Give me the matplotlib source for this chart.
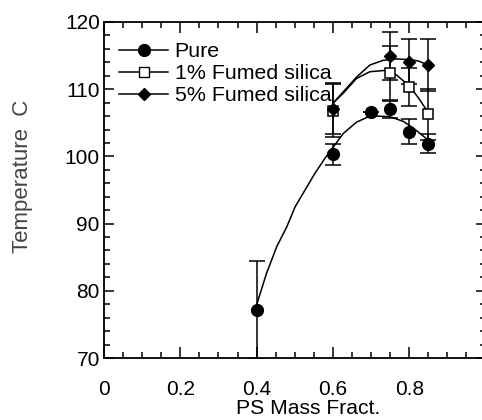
import matplotlib
matplotlib.use("Agg")
import matplotlib.pyplot as plt
from matplotlib.lines import Line2D
from matplotlib.ticker import MultipleLocator

plt.rcParams['font.family'] = ['Liberation Sans', 'DejaVu Sans']

# измеренные точки
x_pure = [0.4, 0.6, 0.7, 0.75, 0.8, 0.85]
y_pure = [77.1, 100.3, 106.6, 107.0, 103.7, 101.9]
e_pure = [7.3, 1.6, 0.0, 1.3, 1.8, 1.4]

x_1 = [0.6, 0.75, 0.8, 0.85]
y_1 = [106.8, 112.4, 110.3, 106.3]
e_1 = [3.9, 4.0, 2.8, 3.8]

x_5 = [0.6, 0.75, 0.8, 0.85]
y_5 = [107.1, 114.9, 114.1, 113.6]
e_5 = [3.8, 3.6, 3.3, 3.8]

# линии аппроксимации
cx_pure = [0.40, 0.426, 0.453, 0.479, 0.501, 0.527, 0.553, 0.579, 0.601, 0.627, 0.662, 0.689, 0.715, 0.75, 0.785, 0.811, 0.833, 0.85]
cy_pure = [77.9, 82.6, 86.6, 89.5, 92.5, 95.0, 97.5, 99.7, 101.4, 103.4, 105.1, 105.8, 106.0, 105.9, 105.2, 104.2, 103.2, 102.4]
cx_1 = [0.6, 0.627, 0.662, 0.697, 0.737, 0.767, 0.802, 0.828, 0.85]
cy_1 = [107.9, 109.4, 111.6, 112.6, 112.8, 112.1, 110.4, 108.4, 106.5]
cx_5 = [0.6, 0.627, 0.662, 0.697, 0.732, 0.767, 0.802, 0.824, 0.85]
cy_5 = [107.9, 109.6, 111.8, 113.6, 114.3, 114.5, 114.4, 114.2, 113.6]

labels = ["Pure", "1% Fumed silica", "5% Fumed silica"]

fig = plt.figure(figsize=(4.82, 4.2), dpi=100)
ax = fig.add_axes([104 / 482, 62 / 420, 381.5 / 482, 336 / 420])

lw = 1.1
ax.plot(cx_pure, cy_pure, color='k', lw=lw)
ax.plot(cx_1, cy_1, color='k', lw=lw)
ax.plot(cx_5, cy_5, color='k', lw=lw)

ax.errorbar(x_pure, y_pure, yerr=e_pure, fmt='o', color='k', ms=8.5, capsize=6, elinewidth=1.1, capthick=1.1)
ax.errorbar(x_1, y_1, yerr=e_1, fmt='s', color='k', mfc='white', ms=7, mew=1.1, capsize=6, elinewidth=1.1, capthick=1.1)
ax.errorbar(x_5, y_5, yerr=e_5, fmt='D', color='k', ms=6.5, capsize=6, elinewidth=1.1, capthick=1.1)

ax.set_xlim(0, 1.0)
ax.set_ylim(70, 120)
ax.xaxis.set_minor_locator(MultipleLocator(0.05))
ax.yaxis.set_major_locator(MultipleLocator(10))
ax.yaxis.set_minor_locator(MultipleLocator(2))
ax.set_xticks([0, 0.2, 0.4, 0.6, 0.8, 1.0])
ax.set_xticklabels(["0", "0.2", "0.4", "0.6", "0.8", ""])
ax.tick_params(which='both', direction='in', top=True, right=True, labelsize=15, width=1.1)
ax.tick_params(axis='x', which='major', length=8, pad=16)
ax.tick_params(axis='y', which='major', length=7.5, pad=3)
ax.tick_params(which='minor', length=4.5)
for s in ax.spines.values():
    s.set_linewidth(1.3)

ax.set_xlabel("PS Mass Fract.", fontsize=15.2)
ax.xaxis.set_label_coords(0.535, -0.122)
ax.set_ylabel("Temperature  C", fontsize=16, color='#444444')
ax.yaxis.set_label_coords(-0.185, 0.54)

handles = [
    Line2D([], [], color='k', lw=lw, marker='o', ms=8.5),
    Line2D([], [], color='k', lw=lw, marker='s', mfc='white', ms=7),
    Line2D([], [], color='k', lw=lw, marker='D', ms=6.5),
]
ax.legend(handles, labels, loc='upper left', bbox_to_anchor=(0.0, 0.985), frameon=False,
          fontsize=15.4, handlelength=2.3, handletextpad=0.3, labelspacing=0.15,
          borderaxespad=0.3)

fig.savefig("out.png", dpi=100)
